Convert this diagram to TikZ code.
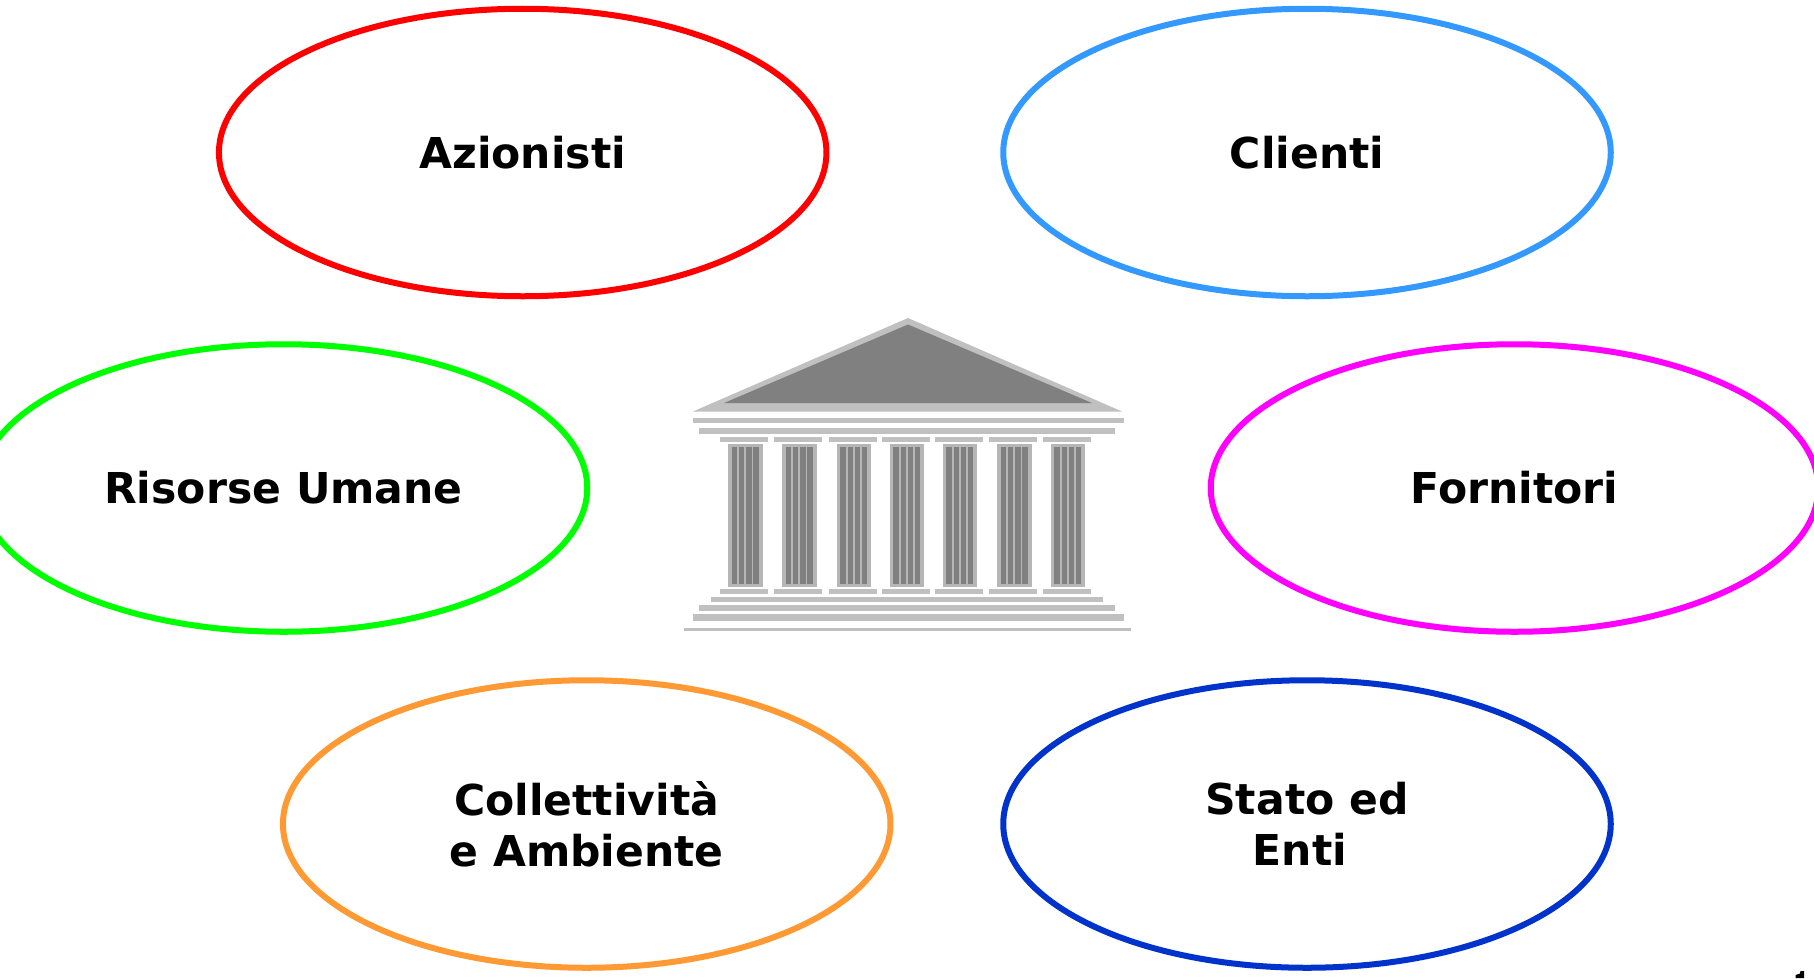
\documentclass[tikz,border=0pt]{standalone}
\usepackage{fontspec}
\setmainfont{DejaVu Sans}
\usetikzlibrary{shapes.geometric}
\definecolor{tlight}{HTML}{C0C0C0}
\definecolor{tdark}{HTML}{808080}
\definecolor{cred}{HTML}{FF0000}
\definecolor{cblue}{HTML}{3399FF}
\definecolor{cgreen}{HTML}{00FF00}
\definecolor{cmag}{HTML}{FF00FF}
\definecolor{corange}{HTML}{FF9933}
\definecolor{cnavy}{HTML}{0033CC}
\tikzset{
  stake/.style={ellipse,draw,line width=6bp,minimum width=607.5bp,minimum height=287.5bp,inner sep=0pt,align=center,
    font=\fontsize{42.7}{51.2}\selectfont\bfseries,text=black},
  lightbar/.style={fill=tlight,draw=none},
  darkbar/.style={fill=tdark,draw=none}
}
\newcommand{\templecol}[1]{%
  \fill[lightbar] (#1-8,437) rectangle (#1+40,442);
  \fill[lightbar] (#1-8,589) rectangle (#1+40,594);
  \fill[tlight!85!tdark] (#1,444) rectangle (#1+34.5,587);
  \foreach \s in {3.7,11,18.3,25.3}
    \fill[darkbar] (#1+\s,447) rectangle (#1+\s+5.4,584);
}
\begin{document}
\begin{tikzpicture}[x=1bp,y=-1bp]
\useasboundingbox (0,0) rectangle (1814,978);
\clip (0,0) rectangle (1814,978);
\fill[white] (0,0) rectangle (1814,978);
\node[stake,draw=cred] (az) at (522.7,152.5) {Azionisti};
\node[stake,draw=cblue] (cl) at (1307,152.5) {Clienti};
\node[stake,draw=cgreen] (ru) at (283.5,488) {Risorse Umane};
\node[stake,draw=cmag] (fo) at (1514.5,488) {Fornitori};
\node[stake,draw=corange] (co) at (586.7,824) {Collettività\\e Ambiente};
\node[stake,draw=cnavy] (st) at (1307,824) {Stato ed\\Enti\hspace*{14bp}};
% temple
\fill[lightbar] (908,318) -- (1122,411.5) -- (693,411.5) -- cycle;
\fill[darkbar] (908,324.5) -- (1092,403) -- (724,403) -- cycle;
\fill[lightbar] (693,418) rectangle (1124,423);
\fill[lightbar] (699,428) rectangle (1115,434);
\foreach \x in {728,782,836.5,889.5,942.5,997,1050.7}{\templecol{\x}}
\fill[lightbar] (711,597) rectangle (1103,601.5);
\fill[lightbar] (699,604.5) rectangle (1115,611);
\fill[lightbar] (693,614) rectangle (1124,621);
\fill[lightbar] (684,627.5) rectangle (1131,631);
% clipped page mark
\fill[black] (1795.5,975) -- (1800,973.5) -- (1800.5,971) -- (1804,971) -- (1804,978) -- (1795.5,978) -- cycle;
\end{tikzpicture}
\end{document}
